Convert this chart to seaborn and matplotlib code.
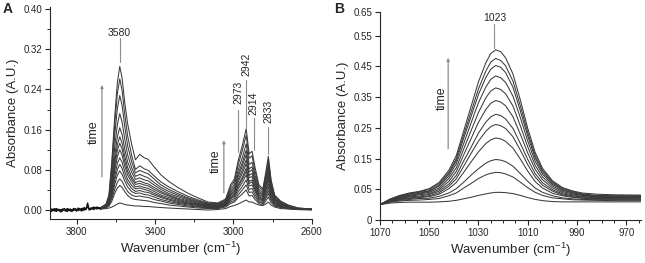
import numpy as np
import pandas as pd
import seaborn as sns
import matplotlib.pyplot as plt
from matplotlib.ticker import MultipleLocator, FixedLocator

# ---- panel A: O-H / C-H region --------------------------------------------
a_wn = [3680, 3650, 3635, 3620, 3605, 3592, 3580, 3568, 3555, 3540, 3520, 3500,
        3478, 3455, 3435, 3405, 3370, 3330, 3280, 3230, 3180, 3130, 3080, 3040,
        3015, 2995, 2976, 2955, 2935, 2920, 2905, 2890, 2870, 2850, 2835, 2822,
        2808, 2790, 2760, 2720, 2670, 2600]

a_spectra = [
    [0.004, 0.012, 0.030, 0.100, 0.190, 0.255, 0.286, 0.262, 0.215, 0.172, 0.132, 0.100, 0.111, 0.104, 0.101, 0.086, 0.070, 0.057, 0.044, 0.033, 0.024, 0.016, 0.014, 0.022, 0.050, 0.062, 0.098, 0.128, 0.162, 0.112, 0.117, 0.085, 0.050, 0.042, 0.075, 0.107, 0.060, 0.030, 0.018, 0.010, 0.004, 0.002],
    [0.004, 0.011, 0.028, 0.092, 0.174, 0.233, 0.261, 0.238, 0.192, 0.148, 0.110, 0.081, 0.088, 0.082, 0.079, 0.068, 0.056, 0.046, 0.036, 0.027, 0.020, 0.014, 0.013, 0.020, 0.046, 0.057, 0.090, 0.118, 0.149, 0.103, 0.108, 0.078, 0.046, 0.039, 0.070, 0.101, 0.056, 0.028, 0.017, 0.009, 0.004, 0.002],
    [0.004, 0.010, 0.025, 0.080, 0.152, 0.203, 0.228, 0.208, 0.168, 0.128, 0.097, 0.074, 0.079, 0.075, 0.072, 0.062, 0.050, 0.041, 0.032, 0.024, 0.018, 0.013, 0.012, 0.018, 0.041, 0.051, 0.080, 0.104, 0.132, 0.091, 0.095, 0.069, 0.041, 0.035, 0.064, 0.091, 0.051, 0.026, 0.015, 0.008, 0.003, 0.002],
    [0.004, 0.010, 0.022, 0.068, 0.128, 0.171, 0.192, 0.175, 0.142, 0.110, 0.085, 0.067, 0.071, 0.067, 0.064, 0.055, 0.045, 0.037, 0.029, 0.022, 0.016, 0.012, 0.011, 0.016, 0.037, 0.046, 0.072, 0.094, 0.119, 0.082, 0.086, 0.062, 0.037, 0.032, 0.059, 0.085, 0.047, 0.024, 0.014, 0.008, 0.003, 0.002],
    [0.003, 0.009, 0.020, 0.058, 0.110, 0.146, 0.164, 0.150, 0.122, 0.096, 0.076, 0.061, 0.064, 0.060, 0.058, 0.050, 0.041, 0.033, 0.026, 0.020, 0.015, 0.011, 0.010, 0.015, 0.034, 0.042, 0.067, 0.087, 0.110, 0.076, 0.080, 0.058, 0.034, 0.030, 0.055, 0.078, 0.044, 0.022, 0.013, 0.007, 0.003, 0.002],
    [0.003, 0.008, 0.018, 0.052, 0.098, 0.130, 0.146, 0.133, 0.108, 0.085, 0.067, 0.055, 0.058, 0.054, 0.052, 0.045, 0.037, 0.030, 0.023, 0.018, 0.013, 0.010, 0.009, 0.014, 0.031, 0.038, 0.061, 0.079, 0.100, 0.069, 0.073, 0.053, 0.031, 0.027, 0.050, 0.072, 0.040, 0.020, 0.012, 0.007, 0.003, 0.002],
    [0.003, 0.008, 0.017, 0.047, 0.089, 0.119, 0.133, 0.121, 0.098, 0.077, 0.062, 0.051, 0.053, 0.050, 0.048, 0.041, 0.034, 0.028, 0.021, 0.016, 0.012, 0.009, 0.008, 0.013, 0.029, 0.035, 0.056, 0.073, 0.092, 0.064, 0.067, 0.048, 0.029, 0.025, 0.046, 0.065, 0.037, 0.019, 0.011, 0.006, 0.003, 0.002],
    [0.003, 0.007, 0.015, 0.042, 0.080, 0.107, 0.120, 0.109, 0.088, 0.070, 0.056, 0.046, 0.048, 0.045, 0.043, 0.037, 0.030, 0.025, 0.019, 0.014, 0.011, 0.008, 0.007, 0.012, 0.026, 0.032, 0.050, 0.065, 0.083, 0.057, 0.060, 0.044, 0.026, 0.022, 0.041, 0.059, 0.033, 0.017, 0.010, 0.006, 0.002, 0.001],
    [0.003, 0.007, 0.014, 0.037, 0.069, 0.093, 0.104, 0.095, 0.077, 0.061, 0.049, 0.042, 0.044, 0.041, 0.039, 0.033, 0.027, 0.022, 0.017, 0.013, 0.010, 0.007, 0.007, 0.011, 0.024, 0.029, 0.047, 0.061, 0.077, 0.053, 0.056, 0.040, 0.024, 0.020, 0.037, 0.052, 0.029, 0.015, 0.009, 0.005, 0.002, 0.001],
    [0.002, 0.006, 0.013, 0.032, 0.061, 0.081, 0.091, 0.083, 0.067, 0.054, 0.043, 0.037, 0.039, 0.036, 0.035, 0.030, 0.025, 0.020, 0.015, 0.012, 0.009, 0.006, 0.006, 0.010, 0.022, 0.027, 0.042, 0.055, 0.070, 0.048, 0.050, 0.037, 0.022, 0.018, 0.032, 0.046, 0.026, 0.013, 0.008, 0.004, 0.002, 0.001],
    [0.002, 0.006, 0.012, 0.028, 0.052, 0.070, 0.078, 0.071, 0.058, 0.046, 0.037, 0.033, 0.034, 0.031, 0.030, 0.026, 0.021, 0.017, 0.013, 0.010, 0.007, 0.005, 0.005, 0.009, 0.019, 0.023, 0.036, 0.047, 0.060, 0.041, 0.043, 0.031, 0.019, 0.015, 0.027, 0.039, 0.022, 0.011, 0.007, 0.004, 0.002, 0.001],
    [0.002, 0.005, 0.010, 0.023, 0.042, 0.056, 0.062, 0.057, 0.047, 0.037, 0.030, 0.027, 0.028, 0.026, 0.025, 0.021, 0.018, 0.014, 0.011, 0.008, 0.006, 0.004, 0.004, 0.008, 0.016, 0.019, 0.030, 0.040, 0.050, 0.035, 0.036, 0.026, 0.016, 0.013, 0.023, 0.033, 0.019, 0.010, 0.006, 0.003, 0.001, 0.001],
    [0.002, 0.004, 0.008, 0.018, 0.034, 0.044, 0.049, 0.045, 0.037, 0.029, 0.023, 0.021, 0.020, 0.019, 0.018, 0.015, 0.013, 0.010, 0.008, 0.006, 0.004, 0.003, 0.003, 0.006, 0.013, 0.016, 0.025, 0.032, 0.040, 0.028, 0.029, 0.021, 0.013, 0.010, 0.018, 0.026, 0.015, 0.008, 0.005, 0.003, 0.001, 0.001],
    [0.002, 0.003, 0.004, 0.006, 0.009, 0.012, 0.014, 0.013, 0.011, 0.010, 0.009, 0.008, 0.008, 0.007, 0.007, 0.006, 0.005, 0.004, 0.003, 0.002, 0.001, 0.000, 0.001, 0.003, 0.007, 0.009, 0.012, 0.016, 0.020, 0.016, 0.016, 0.013, 0.010, 0.009, 0.012, 0.016, 0.010, 0.006, 0.003, 0.002, 0.001, 0.000],
]

# noisy high-wavenumber baseline where all spectra overlap
a_noise_wn = list(range(3936, 3679, -8))
a_noise_1 = [0.001, -0.003, 0.002, -0.002, 0.003, -0.001, 0.001, -0.004, 0.002, 0.000, -0.002,
             0.003, -0.001, 0.002, -0.003, 0.003, 0.000, -0.002, 0.004, 0.000, 0.003, -0.001,
             0.005, 0.001, 0.014, 0.000, 0.004, 0.002, 0.006, 0.003, 0.006, 0.003, 0.004]
a_noise_2 = [-0.002, 0.002, -0.001, 0.003, -0.003, 0.002, -0.002, 0.001, -0.002, 0.003, 0.001,
             -0.003, 0.002, -0.002, 0.001, -0.001, 0.003, 0.001, -0.001, 0.003, -0.002, 0.004,
             0.000, 0.003, 0.006, 0.002, 0.001, 0.005, 0.001, 0.005, 0.002, 0.005, 0.003]

a_peaks = ["3580", "2973", "2942", "2914", "2833"]

# ---- panel B: 1023 band ---------------------------------------------------
b_wn = [1070, 1066, 1062, 1058, 1054, 1050, 1046, 1042, 1039, 1036, 1033, 1030, 1027, 1025,
        1023, 1021, 1019, 1016, 1013, 1010, 1007, 1004, 1000, 996, 992, 988, 982, 975, 964]

b_spectra = [
    [0, .018, .030, .038, .043, .052, .072, .112, .160, .240, .320, .400, .462, .492, .504, .498, .478, .425, .340, .248, .170, .118, .078, .056, .045, .038, .034, .032, .031],
    [0, .017, .028, .036, .042, .049, .068, .105, .150, .227, .302, .377, .435, .464, .476, .469, .452, .402, .321, .235, .160, .112, .074, .053, .043, .035, .030, .029, .029],
    [0, .016, .027, .034, .040, .045, .063, .100, .143, .216, .287, .359, .414, .441, .453, .447, .430, .382, .305, .223, .152, .106, .070, .050, .040, .033, .029, .028, .028],
    [0, .015, .025, .031, .037, .043, .060, .093, .133, .199, .266, .332, .383, .408, .419, .413, .398, .353, .283, .207, .141, .099, .066, .047, .038, .032, .027, .026, .026],
    [0, .014, .023, .029, .035, .040, .054, .085, .120, .181, .241, .300, .348, .370, .380, .375, .361, .321, .256, .188, .128, .090, .061, .043, .035, .030, .025, .024, .024],
    [0, .013, .021, .027, .032, .036, .049, .076, .108, .162, .215, .268, .310, .330, .339, .334, .322, .286, .229, .168, .115, .081, .055, .039, .032, .027, .023, .023, .023],
    [0, .012, .020, .025, .028, .033, .044, .067, .095, .142, .187, .233, .269, .286, .294, .290, .279, .248, .199, .147, .101, .071, .049, .035, .029, .025, .022, .021, .021],
    [0, .011, .018, .022, .025, .029, .039, .060, .084, .125, .167, .207, .239, .254, .261, .257, .248, .221, .177, .130, .090, .063, .044, .032, .026, .022, .020, .019, .019],
    [0, .010, .016, .020, .023, .026, .034, .052, .072, .105, .139, .172, .199, .211, .217, .214, .206, .184, .148, .109, .075, .054, .037, .029, .024, .021, .018, .018, .018],
    [0, .009, .014, .017, .020, .021, .027, .038, .052, .073, .096, .117, .135, .143, .147, .145, .140, .125, .101, .076, .054, .040, .029, .022, .019, .017, .016, .016, .016],
    [0, .008, .012, .014, .015, .017, .020, .029, .038, .054, .069, .085, .097, .102, .105, .104, .100, .090, .073, .055, .040, .030, .022, .019, .016, .015, .014, .013, .013],
    [0, .005, .007, .008, .008, .008, .009, .011, .014, .019, .024, .030, .035, .038, .040, .040, .039, .036, .030, .023, .017, .013, .010, .009, .009, .009, .009, .009, .009],
]
b_ytick_labels = ["0", "0.05", "0.15", "0.25", "0.35", "0.45", "0.55", "0.65"]


def long_form(wn, spectra):
    rows = []
    for k, s in enumerate(spectra):
        rows.append(pd.DataFrame({"wn": wn, "abs": s, "scan": k}))
    return pd.concat(rows, ignore_index=True)


sns.set_style("ticks")
plt.rcParams["font.family"] = ["Liberation Sans", "DejaVu Sans"]
plt.rcParams["mathtext.fontset"] = "custom"
plt.rcParams["mathtext.rm"] = "Liberation Sans"
plt.rcParams["mathtext.default"] = "regular"

LINE = "#3a3a3a"
GUIDE = "#8c8c8c"

fig = plt.figure(figsize=(6.45, 2.63), dpi=100)
axA = fig.add_axes([0.0775, 0.167, 0.406, 0.806])
axB = fig.add_axes([0.589, 0.1635, 0.405, 0.792])

# ---- draw A
sns.lineplot(data=long_form(a_wn, a_spectra), x="wn", y="abs", units="scan",
             estimator=None, color=LINE, lw=0.75, ax=axA)
for nz in (a_noise_1, a_noise_2):
    sns.lineplot(x=a_noise_wn, y=nz, color="#111111", lw=1.0, ax=axA)

axA.set_xlim(3936, 2600)
axA.set_ylim(-0.018, 0.404)
axA.xaxis.set_major_locator(FixedLocator([3800, 3400, 3000, 2600]))
axA.xaxis.set_minor_locator(MultipleLocator(200))
axA.yaxis.set_major_locator(MultipleLocator(0.08))
axA.yaxis.set_minor_locator(MultipleLocator(0.04))
axA.yaxis.set_major_formatter(plt.FormatStrFormatter("%.2f"))

# peak labels
axA.plot([3580, 3580], [0.295, 0.342], color=GUIDE, lw=0.8)
axA.text(3584, 0.352, a_peaks[0], ha="center", va="center", fontsize=7.5)
for lab, x, y0, y1, yt in [(a_peaks[1], 2976, 0.115, 0.199, 0.235),
                           (a_peaks[2], 2934, 0.165, 0.259, 0.290),
                           (a_peaks[3], 2897, 0.119, 0.183, 0.212),
                           (a_peaks[4], 2824, 0.111, 0.165, 0.196)]:
    axA.plot([x, x], [y0, y1], color=GUIDE, lw=0.8)
    axA.text(x, yt, lab, rotation=90, ha="center", va="center", fontsize=7.5)

# time arrows
for x, y0, y1, xt, yt in [(3671, 0.066, 0.249, 3712, 0.155),
                          (3049, 0.034, 0.139, 3092, 0.097)]:
    axA.annotate("", xy=(x, y1), xytext=(x, y0),
                 arrowprops=dict(arrowstyle="-|>", color=GUIDE, lw=0.9,
                                 mutation_scale=4, shrinkA=0, shrinkB=0))
    axA.text(xt, yt, "time", rotation=90, ha="center", va="center", fontsize=9)

# ---- draw B
sns.lineplot(data=long_form(b_wn, b_spectra), x="wn", y="abs", units="scan",
             estimator=None, color=LINE, lw=0.75, ax=axB)
axB.set_xlim(1070, 964)
axB.set_ylim(-0.05, 0.628)
axB.xaxis.set_major_locator(FixedLocator([1070, 1050, 1030, 1010, 990, 970]))
axB.xaxis.set_minor_locator(MultipleLocator(5))
axB.set_yticks([-0.05, 0.05, 0.15, 0.25, 0.35, 0.45, 0.55, 0.628])
axB.set_yticklabels(b_ytick_labels)

axB.plot([1023.5, 1023.5], [0.511, 0.589], color=GUIDE, lw=0.8)
axB.text(1023.5, 0.606, "1023", ha="center", va="center", fontsize=7.5)
axB.annotate("", xy=(1042.3, 0.478), xytext=(1042.3, 0.182),
             arrowprops=dict(arrowstyle="-|>", color=GUIDE, lw=0.9,
                             mutation_scale=4, shrinkA=0, shrinkB=0))
axB.text(1045.0, 0.345, "time", rotation=90, ha="center", va="center", fontsize=9)

for ax, letter in ((axA, "A"), (axB, "B")):
    sns.despine(ax=ax)
    ax.set_xlabel("Wavenumber (cm$^{-1}$)", fontsize=9.5, labelpad=2)
    ax.set_ylabel("Absorbance (A.U.)", fontsize=9.5, labelpad=3)
    ax.tick_params(axis="both", which="major", labelsize=7, length=3.5, width=0.8, pad=2)
    ax.tick_params(axis="both", which="minor", length=2, width=0.7)
    for sp in ax.spines.values():
        sp.set_linewidth(0.8)

fig.text(0.004, 0.965, "A", fontsize=10, fontweight="bold", va="center")
fig.text(0.518, 0.965, "B", fontsize=10, fontweight="bold", va="center")

fig.savefig("out.png", dpi=100)
